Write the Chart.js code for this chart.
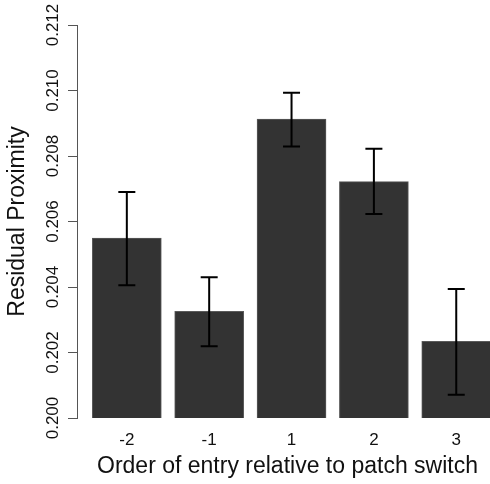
<!DOCTYPE html>
<html>
<head>
<meta charset="utf-8">
<script src="https://cdn.jsdelivr.net/npm/chart.js@4"></script>
<style>
    body { margin: 0; background: #fff; overflow: hidden; }
    #wrap { width: 490px; height: 484px; overflow: hidden; }
</style>
</head>
<body>
<div id="wrap"><canvas id="proximityChart" width="498" height="484"></canvas></div>
<script>
// categories and values
const categories = ["-2", "-1", "1", "2", "3"];
const means = [0.20549, 0.20326, 0.20913, 0.20722, 0.20234];
const errHigh = [0.20690, 0.20430, 0.20993, 0.20822, 0.20394];
const errLow = [0.20405, 0.20219, 0.20829, 0.20623, 0.20071];
const yTicks = [0.200, 0.202, 0.204, 0.206, 0.208, 0.210, 0.212];

// error bars (drawn from the scales, after the bars)
const errorBars = {
    id: "errorBars",
    afterDatasetsDraw(chart) {
        const ctx = chart.ctx;
        const xs = chart.scales.x;
        const ys = chart.scales.y;
        ctx.save();
        ctx.strokeStyle = "#000";
        ctx.lineWidth = 2;
        for (let i = 0; i < means.length; i++) {
            const x = xs.getPixelForValue(i);
            const top = ys.getPixelForValue(errHigh[i]);
            const bot = ys.getPixelForValue(errLow[i]);
            ctx.beginPath();
            ctx.moveTo(x, top); ctx.lineTo(x, bot);
            ctx.moveTo(x - 8.5, top); ctx.lineTo(x + 8.5, top);
            ctx.moveTo(x - 8.5, bot); ctx.lineTo(x + 8.5, bot);
            ctx.stroke();
        }
        ctx.restore();
    }
};

// plot region runs a little past the right edge, like the cropped original
new Chart(document.getElementById("proximityChart"), {
    type: "bar",
    data: {
        datasets: [{
            data: means.map((v, i) => ({ x: i, y: v })),
            backgroundColor: "#333333",
            borderColor: "#5a5a5a",
            borderWidth: 1,
            barThickness: 69
        }]
    },
    options: {
        responsive: false,
        animation: false,
        layout: { padding: { top: 25, left: 0, right: 0, bottom: 0 } },
        plugins: { legend: { display: false }, tooltip: { enabled: false } },
        scales: {
            x: {
                type: "linear",
                offset: false,
                min: -0.605,
                max: 4.507,
                grid: { display: false, drawTicks: false },
                border: { display: false },
                afterBuildTicks: s => { s.ticks = categories.map((c, i) => ({ value: i })); },
                afterFit: s => { s.height = 66; },
                ticks: {
                    padding: 12,
                    color: "#111",
                    font: { family: "Liberation Sans, Arial, sans-serif", size: 17 },
                    callback: v => categories[Math.round(v)]
                },
                title: {
                    display: true,
                    text: "Order of entry relative to patch switch",
                    color: "#111",
                    font: { family: "Liberation Sans, Arial, sans-serif", size: 23 },
                    padding: { top: 0, bottom: 4 }
                }
            },
            y: {
                min: 0.200,
                max: 0.212,
                afterBuildTicks: s => { s.ticks = yTicks.map(v => ({ value: v })); },
                afterFit: s => { s.width = 77; },
                grid: { drawOnChartArea: false, drawTicks: true, tickLength: 9, color: "#555" },
                border: { display: true, color: "#555" },
                ticks: {
                    minRotation: 90,
                    maxRotation: 90,
                    crossAlign: "center",
                    padding: -7,
                    color: "#111",
                    font: { family: "Liberation Sans, Arial, sans-serif", size: 17 },
                    callback: v => v.toFixed(3)
                },
                title: {
                    display: true,
                    text: "Residual Proximity",
                    color: "#111",
                    font: { family: "Liberation Sans, Arial, sans-serif", size: 23 },
                    padding: { top: 4, bottom: 0 }
                }
            }
        }
    },
    plugins: [errorBars]
});
</script>
</body>
</html>
